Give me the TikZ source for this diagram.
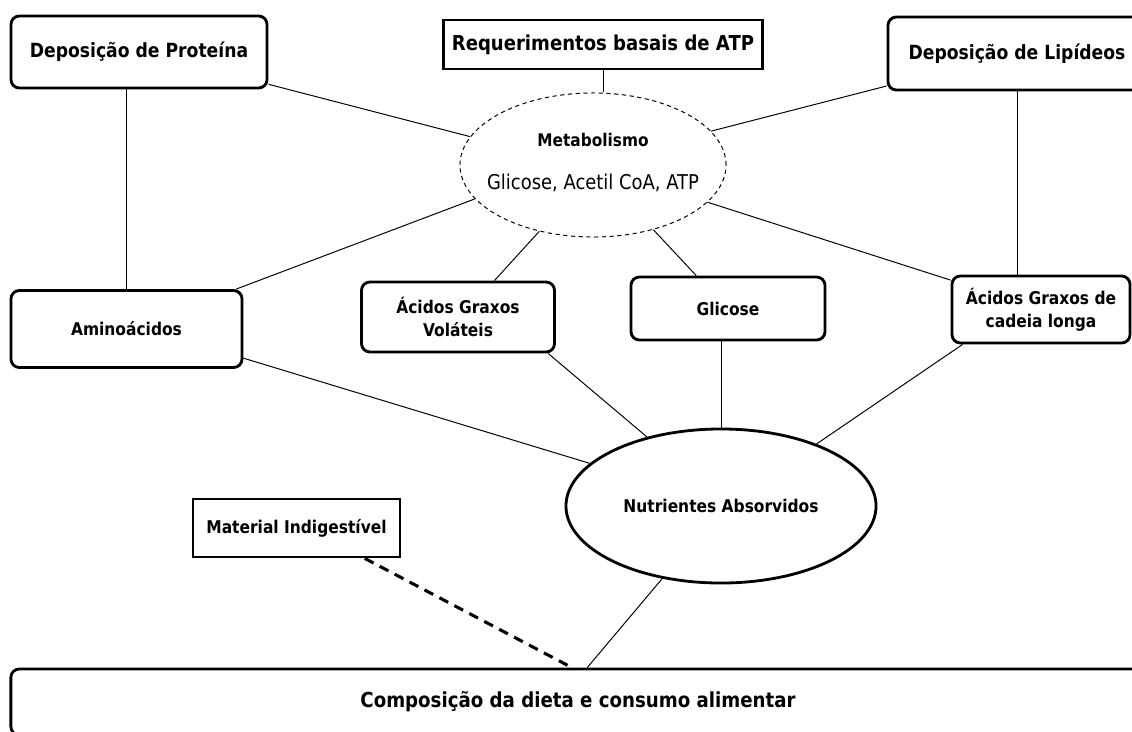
\documentclass[tikz,border=0pt]{standalone}
\usepackage{fontspec}
\setmainfont{DejaVu Sans}[FakeStretch=0.88]
\usetikzlibrary{shapes.geometric}
\begin{document}
\begin{tikzpicture}[x=0.025cm,y=-0.025cm,
  rbox/.style={draw,line width=2pt,rounded corners=6pt,align=center,inner sep=0pt,
    font=\bfseries\fontsize{12.5}{16}\selectfont},
  sbox/.style={draw,line width=2pt,align=center,inner sep=0pt,
    font=\bfseries\fontsize{12.5}{16}\selectfont},
  bigfont/.style={font=\bfseries\fontsize{13.9}{16}\selectfont},
  link/.style={line width=0.7pt}]
\useasboundingbox (0,0) rectangle (1132,731);
\node[rbox,bigfont,minimum width=6.4cm,minimum height=1.8cm] (prot) at (139,52) {Deposição de Proteína};
\node[sbox,font=\bfseries\fontsize{14.6}{17}\selectfont,minimum width=7.975cm,minimum height=1.225cm] (req) at (603,44.5) {Requerimentos basais de ATP};
\node[rbox,bigfont,minimum width=6.45cm,minimum height=1.825cm] (lip) at (1017,53.5) {Deposição de Lipídeos};
\node[ellipse,draw,line width=0.7pt,dash pattern=on 3pt off 2.5pt,minimum width=6.65cm,minimum height=3.6cm] (meta) at (593,165) {};
\node[font=\bfseries\fontsize{12.4}{15}\selectfont] (metatitle) at (593,140) {Metabolismo};
\node[font=\fontsize{14.5}{17}\selectfont] (metalist) at (593,183) {Glicose, Acetil CoA, ATP};
\node[rbox,minimum width=5.775cm,minimum height=1.925cm] (amino) at (126.5,329) {Aminoácidos};
\node[rbox,minimum width=4.825cm,minimum height=1.75cm] (agv) at (458,317) {Ácidos Graxos\\Voláteis};
\node[rbox,minimum width=4.85cm,minimum height=1.575cm] (gli) at (728,308.5) {Glicose};
\node[rbox,minimum width=4.45cm,minimum height=1.675cm] (agcl) at (1041,309.5) {Ácidos Graxos de\\ cadeia longa};
\node[ellipse,draw,line width=2pt,inner sep=0pt,minimum width=7.75cm,minimum height=3.85cm,
  font=\bfseries\fontsize{12.5}{15}\selectfont] (nutr) at (721,506) {Nutrientes Absorvidos};
\node[sbox,minimum width=5.175cm,minimum height=1.45cm] (mat) at (296.5,528) {Material Indigestível};
\node[rbox,minimum width=28.35cm,minimum height=1.65cm,font=\bfseries\fontsize{14.7}{17}\selectfont] (comp) at (578,702) {Composição da dieta e consumo alimentar};

\draw[link] (prot.south -| amino.north) -- (amino.north);
\draw[link] (prot.-14) -- (meta.167);
\draw[link] (req.south) -- (req.south |- meta.north);
\draw[link] (lip.194) -- (meta.16);
\draw[link] (lip.south) -- (lip.south |- agcl.north);
\draw[link] (meta.196) -- (amino.20);
\draw[link] (meta.231) -- (agv.45);
\draw[link] (meta.313) -- (gli.134);
\draw[link] (meta.342) -- (agcl.162);
\draw[link] (amino.-14) -- (nutr.162.6);
\draw[link] (agv.-22) -- (nutr.137);
\draw[link] (gli.south -| nutr.north) -- (nutr.north);
\draw[link] (agcl.204) -- (nutr.33.6);
\draw[link] (nutr.231) -- (comp.75);
\draw[line width=2.2pt,dash pattern=on 7pt off 5pt] (mat.-24.5) -- (comp.100);
\end{tikzpicture}
\end{document}
